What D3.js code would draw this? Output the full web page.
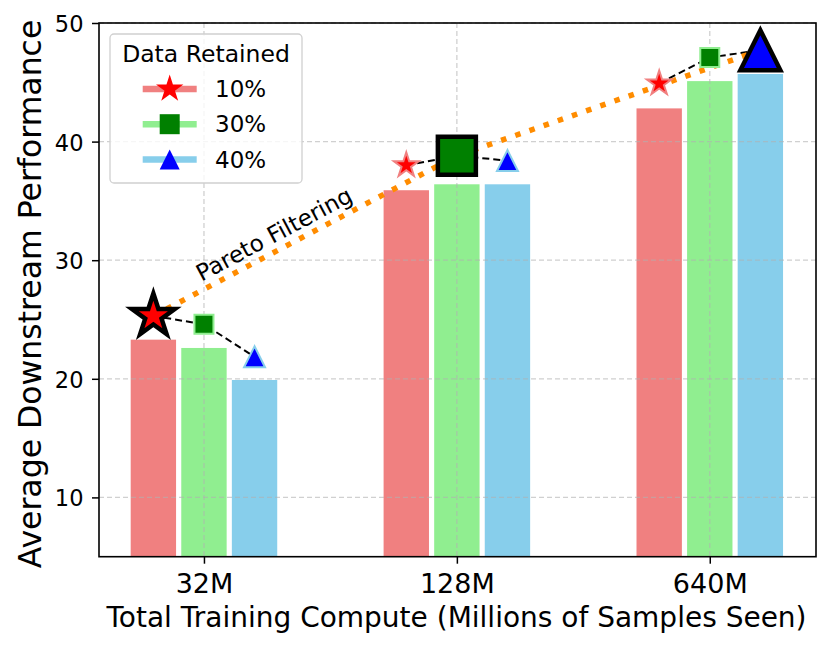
<!DOCTYPE html>
<html>
<head>
<meta charset="utf-8">
<script src="https://cdn.jsdelivr.net/npm/d3@7"></script>
<style>
  body { margin: 0; background: #fff; }
  svg text { font-family: "DejaVu Sans", sans-serif; fill: #000; }
</style>
</head>
<body>
<svg id="svg1" width="831" height="648"></svg>
<script>
// chart values
var categories = ["32M", "128M", "640M"];
var retained = ["10%", "30%", "40%"];
var bars10 = [23.3, 35.9, 42.8];
var bars30 = [22.6, 36.4, 45.1];
var bars40 = [19.9, 36.4, 45.7];
var points10 = [25.3, 38.0, 44.9];
var points30 = [24.6, 38.8, 47.1];
var points40 = [21.85, 38.4, 47.7];
var paretoSeries = [0, 1, 2]; // best series index for each category
var yTicks = [10, 20, 30, 40, 50];

var width = 831, height = 648;
var marginLeft = 99, marginRight = 15, marginTop = 23, marginBottom = 91.3;

var svg = d3.select('#svg1');

var x = d3.scaleLinear().domain([-0.415, 2.42]).range([marginLeft, width - marginRight]);
var y = d3.scaleLinear().domain([5, 50]).range([height - marginBottom, marginTop]);

var barColors = ["#F08080", "#90EE90", "#87CEEB"];
var markColors = ["#FF0000", "#008000", "#0000FF"];
var offsets = [-0.2, 0, 0.2];
var barW = x(0.2) - x(0);

var barSeries = [bars10, bars30, bars40];
var pointSeries = [points10, points30, points40];

// bars
barSeries.forEach(function(vals, s) {
  svg.selectAll('.bar' + s)
    .data(vals)
    .enter()
    .append('rect')
    .attr('class', 'bar' + s)
    .attr('x', function(d, i) { return x(i + offsets[s]) - barW / 2 + 2.6; })
    .attr('width', barW - 5.2)
    .attr('y', function(d) { return y(d); })
    .attr('height', function(d) { return y(5) - y(d); })
    .attr('fill', barColors[s]);
});

// grid (drawn over the bars)
svg.append('g')
  .selectAll('line')
  .data(yTicks)
  .enter()
  .append('line')
  .attr('x1', marginLeft).attr('x2', width - marginRight)
  .attr('y1', function(d) { return y(d); }).attr('y2', function(d) { return y(d); })
  .attr('stroke', '#b0b0b0').attr('stroke-opacity', 0.6)
  .attr('stroke-width', 1.3).attr('stroke-dasharray', '5,3');

svg.append('g')
  .selectAll('line')
  .data(categories)
  .enter()
  .append('line')
  .attr('x1', function(d, i) { return x(i); }).attr('x2', function(d, i) { return x(i); })
  .attr('y1', marginTop).attr('y2', height - marginBottom)
  .attr('stroke', '#b0b0b0').attr('stroke-opacity', 0.6)
  .attr('stroke-width', 1.3).attr('stroke-dasharray', '5,3');

// dashed connectors inside each group
categories.forEach(function(c, i) {
  var pts = pointSeries.map(function(p, s) { return [x(i + offsets[s]), y(p[i])]; });
  svg.append('path')
    .attr('d', d3.line()(pts))
    .attr('fill', 'none')
    .attr('stroke', '#000')
    .attr('stroke-width', 2)
    .attr('stroke-dasharray', '7,4');
});

// pareto line
var paretoPts = categories.map(function(c, i) {
  var s = paretoSeries[i];
  return [x(i + offsets[s]), y(pointSeries[s][i])];
});
svg.append('path')
  .attr('d', d3.line()(paretoPts))
  .attr('fill', 'none')
  .attr('stroke', '#FF8C00')
  .attr('stroke-width', 5.5)
  .attr('stroke-dasharray', '5.5,9.5');

svg.append('text')
  .attr('transform', 'translate(' + x(0.292) + ',' + y(31.6) + ') rotate(-28)')
  .attr('text-anchor', 'middle')
  .style('font-size', '23px')
  .text('Pareto Filtering');

// marker shapes
function starPath(r) {
  var pts = [];
  for (var k = 0; k < 10; k++) {
    var rr = k % 2 === 0 ? r : r * 0.382;
    var a = -Math.PI / 2 + k * Math.PI / 5;
    pts.push([rr * Math.cos(a), rr * Math.sin(a)]);
  }
  return 'M' + pts.join('L') + 'Z';
}
function squarePath(r) {
  return 'M' + [[-r, -r], [r, -r], [r, r], [-r, r]].join('L') + 'Z';
}
function trianglePath(r) {
  return 'M' + [[0, -r], [-r, r], [r, r]].join('L') + 'Z';
}
var shapes = [starPath, squarePath, trianglePath];
var smallR = [13, 9.5, 10.5];
var bigR = [22.5, 19, 20];

pointSeries.forEach(function(vals, s) {
  svg.selectAll('.pt' + s)
    .data(vals)
    .enter()
    .append('path')
    .attr('class', 'pt' + s)
    .attr('transform', function(d, i) { return 'translate(' + x(i + offsets[s]) + ',' + y(d) + ')'; })
    .attr('d', function(d, i) { return paretoSeries[i] === s ? shapes[s](bigR[s]) : shapes[s](smallR[s]); })
    .attr('fill', markColors[s])
    .attr('stroke', function(d, i) { return paretoSeries[i] === s ? '#000' : barColors[s]; })
    .attr('stroke-width', function(d, i) { return paretoSeries[i] === s ? 4.5 : 2; })
    .attr('stroke-linejoin', 'miter')
    .attr('stroke-miterlimit', 10);
});

// axes
var yAxis = svg.append('g')
  .attr('transform', 'translate(' + marginLeft + ',0)')
  .call(d3.axisLeft(y).tickValues(yTicks).tickSize(7).tickPadding(8.5));
yAxis.selectAll('text').style('font-size', '22.5px').attr('dy', '0.38em');

var xAxis = svg.append('g')
  .attr('transform', 'translate(0,' + (height - marginBottom) + ')')
  .call(d3.axisBottom(x).tickValues([0, 1, 2]).tickFormat(function(d) { return categories[d]; }).tickSize(7).tickPadding(10));
xAxis.selectAll('text').style('font-size', '27px');

svg.selectAll('.domain').remove();
svg.selectAll('.tick line').attr('stroke', '#000').attr('stroke-width', 1.5);

svg.append('rect')
  .attr('x', marginLeft).attr('y', marginTop)
  .attr('width', width - marginLeft - marginRight)
  .attr('height', height - marginTop - marginBottom)
  .attr('fill', 'none').attr('stroke', '#000').attr('stroke-width', 1.6);

svg.append('text')
  .attr('transform', 'translate(41,294) rotate(-90)')
  .attr('text-anchor', 'middle')
  .style('font-size', '31.5px')
  .text('Average Downstream Performance');

svg.append('text')
  .attr('x', 456.5).attr('y', 626.7)
  .attr('text-anchor', 'middle')
  .style('font-size', '28px')
  .text('Total Training Compute (Millions of Samples Seen)');

// legend
var legend = svg.append('g');
legend.append('rect')
  .attr('x', 110).attr('y', 34).attr('width', 192).attr('height', 149)
  .attr('rx', 4).attr('fill', '#fff').attr('fill-opacity', 0.8)
  .attr('stroke', '#d0d0d0').attr('stroke-width', 1.3);
legend.append('text')
  .attr('x', 206).attr('y', 61.5)
  .attr('text-anchor', 'middle')
  .style('font-size', '23.5px')
  .text('Data Retained');
var legR = [14.4, 10, 10];
retained.forEach(function(r, s) {
  var ly = 89 + s * 35.2;
  legend.append('line')
    .attr('x1', 142.7).attr('x2', 196.7).attr('y1', ly).attr('y2', ly)
    .attr('stroke', barColors[s]).attr('stroke-width', 6.5);
  legend.append('path')
    .attr('transform', 'translate(169.7,' + ly + ')')
    .attr('d', shapes[s](legR[s]))
    .attr('fill', markColors[s]);
  legend.append('text')
    .attr('x', 215).attr('y', ly + 8.2)
    .style('font-size', '23px')
    .text(r);
});
</script>
</body>
</html>
